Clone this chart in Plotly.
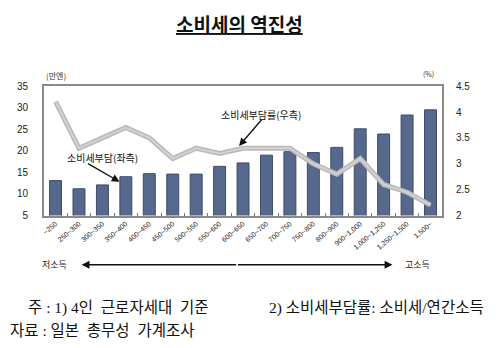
import plotly.graph_objects as go

# Annual income brackets (만엔)
categories = ["~250", "250~300", "300~350", "350~400", "400~450", "450~500",
              "500~550", "550~600", "600~650", "650~700", "700~750", "750~800",
              "800~900", "900~1,000", "1,000~1,250", "1,250~1,500", "1,500~"]
# Consumption tax burden (만엔, left axis)
tax_burden = [13.1, 11.2, 12.1, 14.0, 14.7, 14.6, 14.6, 16.4, 17.2, 19.0,
              19.8, 19.6, 20.8, 25.1, 23.9, 28.3, 29.5]
# Consumption tax burden rate (%, right axis)
tax_rate = [4.2, 3.3, 3.5, 3.7, 3.5, 3.1, 3.3, 3.2, 3.3, 3.3,
            3.3, 3.0, 2.8, 3.1, 2.6, 2.45, 2.2]

left_ticks = [5, 10, 15, 20, 25, 30, 35]
right_ticks = [2, 2.5, 3, 3.5, 4, 4.5]
right_ticktext = ["2", "2.5", "3", "3.5", "4", "4.5"]

W, H = 500, 348
KR = "Noto Sans CJK KR"
NOTE = "Liberation Serif, Noto Sans CJK KR"


def px(x):
    return x / W


def py(y):
    return 1 - y / H


fig = go.Figure()
fig.add_trace(go.Bar(
    x=categories, y=tax_burden, yaxis="y",
    marker=dict(color="#56698c", line=dict(color="#3b4c6b", width=1)),
    showlegend=False,
))
fig.add_trace(go.Scatter(
    x=categories, y=tax_rate, yaxis="y2", mode="lines",
    line=dict(color="#b9b9b9", width=5), showlegend=False,
))
fig.add_trace(go.Scatter(
    x=categories, y=tax_rate, yaxis="y2", mode="lines",
    line=dict(color="#d2d2d2", width=2), showlegend=False,
))

fig.update_layout(
    width=W, height=H,
    margin=dict(l=0, r=0, t=0, b=0),
    paper_bgcolor="white", plot_bgcolor="white",
    bargap=0.49,
    xaxis=dict(
        domain=[px(42), px(442)],
        showline=True, linecolor="#8a8a8a", linewidth=1.5, mirror=True,
        ticks="inside", tickson="boundaries", ticklen=3, tickcolor="#777",
        tickangle=-40, tickfont=dict(family="Arial", size=7, color="#222"),
        showgrid=False,
    ),
    yaxis=dict(
        domain=[py(217), py(83)], range=[5, 35],
        tickvals=left_ticks, showgrid=False, zeroline=False,
        showline=True, linecolor="#8a8a8a", linewidth=1.5,
        tickfont=dict(family="Arial Black, Arial", size=10, color="#222"),
        ticklabelstandoff=12,
    ),
    yaxis2=dict(
        overlaying="y", side="right", range=[2, 4.5],
        tickvals=right_ticks, ticktext=right_ticktext,
        showgrid=False, zeroline=False,
        showline=True, linecolor="#8a8a8a", linewidth=1.5,
        tickfont=dict(family="Arial Black, Arial", size=10, color="#222"),
        ticklabelstandoff=10,
    ),
)

annotations = [
    # title
    dict(x=px(238), y=py(18), text="<b><u>소비세의 역진성</u></b>",
         font=dict(family=KR, size=19, color="#111")),
    # axis units
    dict(x=px(54), y=py(72), text="(만엔)",
         font=dict(family=KR, size=8, color="#333")),
    dict(x=px(428), y=py(70), text="(%)",
         font=dict(family=KR, size=7, color="#333")),
    # series labels with pointers
    dict(x=px(260), y=py(112), text="소비세부담률(우측)",
         font=dict(family=KR, size=10, color="#111")),
    dict(x=px(101), y=py(157), text="소비세부담(좌측)",
         font=dict(family=KR, size=10, color="#111")),
    # income direction labels
    dict(x=px(53), y=py(268), text="저소득",
         font=dict(family=KR, size=9, color="#222")),
    dict(x=px(417), y=py(268), text="고소득",
         font=dict(family=KR, size=9, color="#222")),
    # footnotes
    dict(x=px(24), y=py(313), text="주 : 1) 4인  근로자세대  기준",
         xanchor="left", font=dict(family=NOTE, size=15.5, color="#111")),
    dict(x=px(266), y=py(313), text="2) 소비세부담률: 소비세/연간소득",
         xanchor="left", font=dict(family=NOTE, size=15.5, color="#111")),
    dict(x=px(6), y=py(336), text="자료 : 일본  총무성  가계조사",
         xanchor="left", font=dict(family=NOTE, size=15.5, color="#111")),
]
for a in annotations:
    a.setdefault("xanchor", "center")
    a.update(xref="paper", yref="paper", showarrow=False, yanchor="middle")
    fig.add_annotation(**a)

# pointer arrows
arrows = [
    ((262, 117), (238, 145)),
    ((85, 163), (118, 182)),
    ((236, 268), (80, 268)),
    ((236, 268), (392, 268)),
]
for (tx, ty), (hx, hy) in arrows:
    fig.add_annotation(
        xref="paper", yref="paper", x=px(hx), y=py(hy),
        ax=tx - hx, ay=ty - hy, axref="pixel", ayref="pixel",
        text="", showarrow=True, arrowhead=2, arrowsize=1.2,
        arrowwidth=1.3, arrowcolor="#111",
    )

fig.write_html("out.html")
